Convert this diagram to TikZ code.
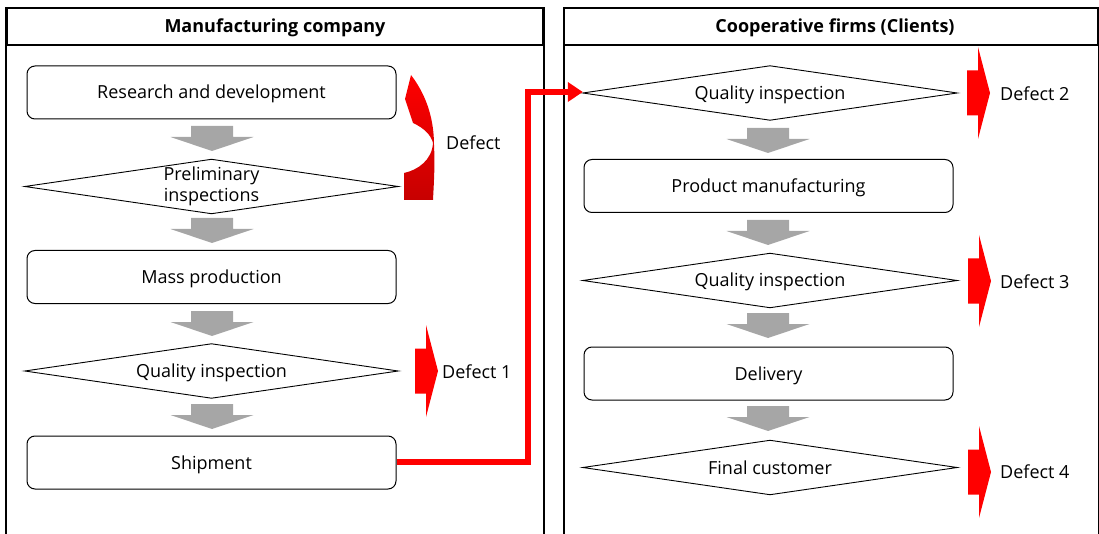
\documentclass[tikz,border=0pt]{standalone}
\usepackage{fontspec}
\setmainfont{Open Sans}
\usetikzlibrary{arrows.meta}
\tikzset{
  pics/flowarr/.style={code={
    \fill[black!35] (-21,0) -- (21,0) -- (21,11) -- (41.5,11) -- (0,25) -- (-41.5,11) -- (-21,11) -- cycle;}},
  pics/defectarr/.style={code={
    \fill[red] (0,-22.5) -- (11,-22.5) -- (11,-46) -- (23,0) -- (11,46) -- (11,22.5) -- (0,22.5) -- cycle;}}
}
\begin{document}
\begin{tikzpicture}[x=1pt,y=-1pt,
  every node/.style={font=\fontsize{18}{22}\selectfont, inner sep=0pt, align=center},
  oneline/.style={text height=15pt, text depth=2pt},
  head/.style={draw, line width=1.8pt, font=\fontsize{18}{22}\selectfont\bfseries, minimum height=37pt, oneline},
  procbox/.style={draw, line width=1pt, rounded corners=8pt, minimum width=369pt, minimum height=53pt, oneline},
  decbox/.style={minimum width=373pt, minimum height=54pt},
  rhomb/.style={line width=0.9pt},
  panel/.style={line width=1.8pt},
  link/.style={red, line width=6pt, -{Triangle[length=15pt,width=19pt]}},
  label/.style={anchor=west, oneline}
]
\useasboundingbox (0,0) rectangle (1099,534);

% panels
\node[head, minimum width=536pt] (h1) at (275,26.5) {Manufacturing company};
\node[head, minimum width=533pt] (h2) at (831,26.5) {\hspace*{8pt}Cooperative firms (Clients)};
\draw[panel] (h1.north west) -- (h1.west |- 0,534);
\draw[panel] (h1.north east) -- (h1.east |- 0,534);
\draw[panel] (h2.north west) -- (h2.west |- 0,534);
\draw[panel] (h2.north east) -- (h2.east |- 0,534);

% manufacturing company column
\node[procbox] (rd) at (211.5,92.5) {Research and development};
\node[decbox] (pre) at (211.5,186.5) {Preliminary\\[-1pt]inspections};
\node[procbox] (mass) at (211.5,277) {Mass production};
\node[decbox, oneline] (qi1) at (211.5,371) {Quality inspection};
\node[procbox] (ship) at (211.5,462.5) {Shipment};
\foreach \d in {pre,qi1}
  \draw[rhomb] (\d.west) -- (\d.north) -- (\d.east) -- (\d.south) -- cycle;
\pic at (212,126) {flowarr};
\pic at (212,218) {flowarr};
\pic at (212,311) {flowarr};
\pic at (212,404) {flowarr};

% cooperative firms column
\node[decbox, oneline, minimum width=374pt] (qi2) at (770,93) {Quality inspection};
\node[procbox] (prod) at (768.5,186) {Product manufacturing};
\node[decbox, oneline, minimum width=374pt] (qi3) at (770,280.5) {Quality inspection};
\node[procbox] (deliv) at (768.5,373.5) {Delivery};
\node[decbox, oneline, minimum width=374pt] (fin) at (770,467.5) {Final customer};
\foreach \d in {qi2,qi3,fin}
  \draw[rhomb] (\d.west) -- (\d.north) -- (\d.east) -- (\d.south) -- cycle;
\pic at (768,128) {flowarr};
\pic at (768,220) {flowarr};
\pic at (768,313) {flowarr};
\pic at (768,406) {flowarr};

% feedback loop of the preliminary inspection
\shade[top color=red, bottom color=red!78!black]
  (411,75) -- (405,99) -- (413,123)
  .. controls (424,128) and (431,135) .. (433,143)
  .. controls (432,160) and (418,170) .. (404,173)
  -- (404,200) -- (433,200)
  .. controls (434,180) and (435,165) .. (434,145)
  .. controls (434,115) and (424,92) .. (411,75) -- cycle;
\node[label] (dloop) at (446,143) {Defect};

% defect exits
\pic at (415,371) {defectarr};
\node[label] (d1) at (442,372) {Defect 1};
\pic at (967,93) {defectarr};
\node[label] (d2) at (1000,94) {Defect 2};
\pic at (968,281) {defectarr};
\node[label] (d3) at (1000,281.5) {Defect 3};
\pic at (968,472) {defectarr};
\node[label] (d4) at (1000,472) {Defect 4};

% shipment to the clients
\draw[link, line join=miter] (ship.east |- 0,462) -- (528,462) -- (528,92) -- (qi2.west |- 0,92);
\end{tikzpicture}
\end{document}
